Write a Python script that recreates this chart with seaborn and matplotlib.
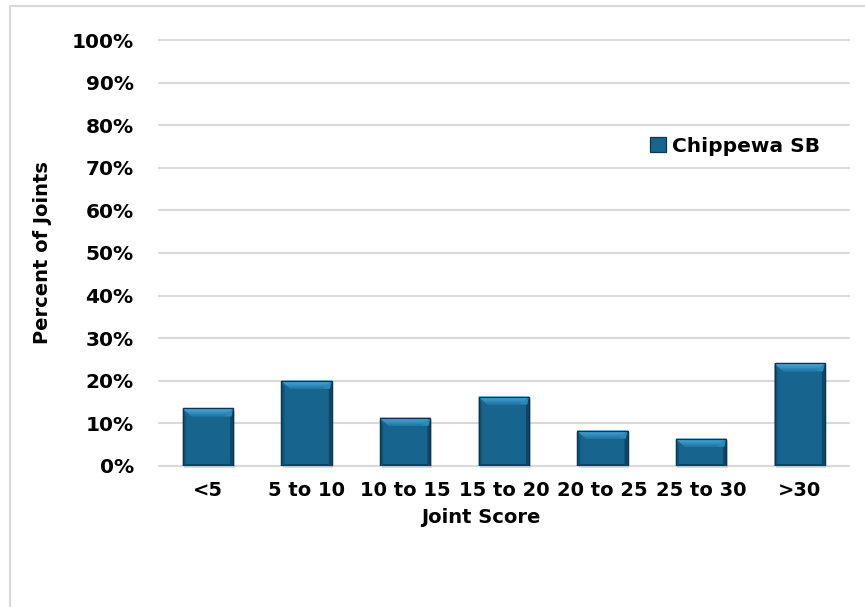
import numpy as np
import pandas as pd
import seaborn as sns
import matplotlib.pyplot as plt
from matplotlib.patches import Polygon, Rectangle, Patch
from matplotlib.lines import Line2D
from matplotlib.colors import to_rgb

# Joint score distribution
categories = ["<5", "5 to 10", "10 to 15", "15 to 20", "20 to 25", "25 to 30", ">30"]
percent_of_joints = [13.5, 20.0, 11.3, 16.3, 8.3, 6.4, 24.1]
series_name = "Chippewa SB"
y_ticks = list(range(0, 101, 10))
y_tick_labels = [f"{t}%" for t in y_ticks]

sns.set_theme(style="white")
plt.rcParams["font.family"] = ["DejaVu Sans"]
plt.rcParams["text.color"] = "black"

W, H = 865, 607
fig = plt.figure(figsize=(W / 100, H / 100), dpi=100)
ax_rect = [0.1835, 0.2323, 0.798, 0.7018]
ax = fig.add_axes(ax_rect)

df = pd.DataFrame({"Joint Score": categories,
                   "Percent": percent_of_joints,
                   "Series": series_name})

body = "#17658f"
edge = "#0a3652"
sns.barplot(data=df, x="Joint Score", y="Percent", hue="Series",
            palette=[body], width=0.51, ax=ax, legend=False,
            edgecolor=edge, linewidth=0.9, zorder=3, saturation=1)

ax.set_xlim(-0.5, len(categories) - 0.5)
ax.set_ylim(0, 100)

# pixel -> data unit conversions for bevel shading
ax_w_px = ax_rect[2] * W
ax_h_px = ax_rect[3] * H
dx = len(categories) / ax_w_px
dy = 100 / ax_h_px


def mix(c1, c2, t):
    a, b = np.array(to_rgb(c1)), np.array(to_rgb(c2))
    return tuple(a + (b - a) * t)


for p in list(ax.patches):
    x0 = p.get_x()
    w = p.get_width()
    h = p.get_height()
    x1 = x0 + w
    bx, by = 9 * dx, 8 * dy
    sx = 3 * dx
    # soft drop shadow
    ax.add_patch(Rectangle((x0 + 1.5 * dx, -2.5 * dy), w, h, facecolor="#7f7f7f",
                           alpha=0.25, edgecolor="none", zorder=2.5, clip_on=False))
    # left / right side shading
    ax.add_patch(Polygon([(x0, h), (x0 + sx, h - by), (x0 + sx, 2 * dy), (x0, 0)],
                         closed=True, facecolor="#105274", edgecolor="none", zorder=4))
    ax.add_patch(Polygon([(x1, h), (x1 - sx, h - by), (x1 - sx, 2 * dy), (x1, 0)],
                         closed=True, facecolor="#0c4565", edgecolor="none", zorder=4))
    # bottom bevel
    ax.add_patch(Polygon([(x0, 0), (x1, 0), (x1 - sx, 2 * dy), (x0 + sx, 2 * dy)],
                         closed=True, facecolor="#0c4463", edgecolor="none", zorder=4))
    # top bevel drawn as a gradient of thin strips
    n = 8
    for i in range(n):
        t0, t1 = i / n, (i + 1) / n
        col = mix("#52afdf", "#1d74a3", t0)
        ax.add_patch(Polygon([(x0 + t0 * bx, h - t0 * by), (x1 - t0 * bx, h - t0 * by),
                              (x1 - t1 * bx, h - t1 * by), (x0 + t1 * bx, h - t1 * by)],
                             closed=True, facecolor=col, edgecolor=col, linewidth=0.3,
                             zorder=4))
    # top corner diagonal
    ax.add_patch(Polygon([(x1, h), (x1 - bx, h - by), (x1 - bx * 0.2, h - by)],
                         closed=True, facecolor="#2d88b9", edgecolor="none", zorder=4.2))
    # outline
    ax.add_patch(Rectangle((x0, 0), w, h, facecolor="none", edgecolor=edge,
                           linewidth=0.9, zorder=5))

ax.set_yticks(y_ticks)
ax.set_yticklabels(y_tick_labels)
ax.yaxis.grid(True, color="#d9d9d9", linewidth=1.5)
ax.xaxis.grid(False)
ax.set_axisbelow(True)
sns.despine(ax=ax, left=True, bottom=True)
for gl in ax.get_ygridlines():
    gl.set_clip_on(False)

ax.tick_params(axis="y", length=0, pad=18, labelsize=14.5)
ax.tick_params(axis="x", length=0, pad=11, labelsize=14)
for lab in ax.get_xticklabels() + ax.get_yticklabels():
    lab.set_fontweight("bold")
    lab.set_color("black")

ax.set_xlabel("Joint Score", fontsize=14, fontweight="bold", color="black")
ax.xaxis.set_label_coords(0.466, -0.099)
ax.set_ylabel("Percent of Joints", fontsize=14, fontweight="bold", labelpad=14, color="black")

handle = Patch(facecolor=body, edgecolor=edge, linewidth=0.9)
leg = ax.legend([handle], [series_name], loc="center left",
                bbox_to_anchor=(0.711, 0.751), frameon=False,
                prop={"weight": "bold", "size": 14.5},
                handlelength=0.8, handleheight=0.8, handletextpad=0.3,
                borderpad=0, borderaxespad=0)
for t in leg.get_texts():
    t.set_color("black")

# chart-area border
fig.add_artist(Line2D([10 / W, 10 / W], [0, 1 - 5.5 / H], color="#d9d9d9", linewidth=1.5))
fig.add_artist(Line2D([10 / W, 1], [1 - 5.5 / H, 1 - 5.5 / H], color="#d9d9d9", linewidth=1.5))

fig.savefig("out.png", dpi=100, facecolor="white")
